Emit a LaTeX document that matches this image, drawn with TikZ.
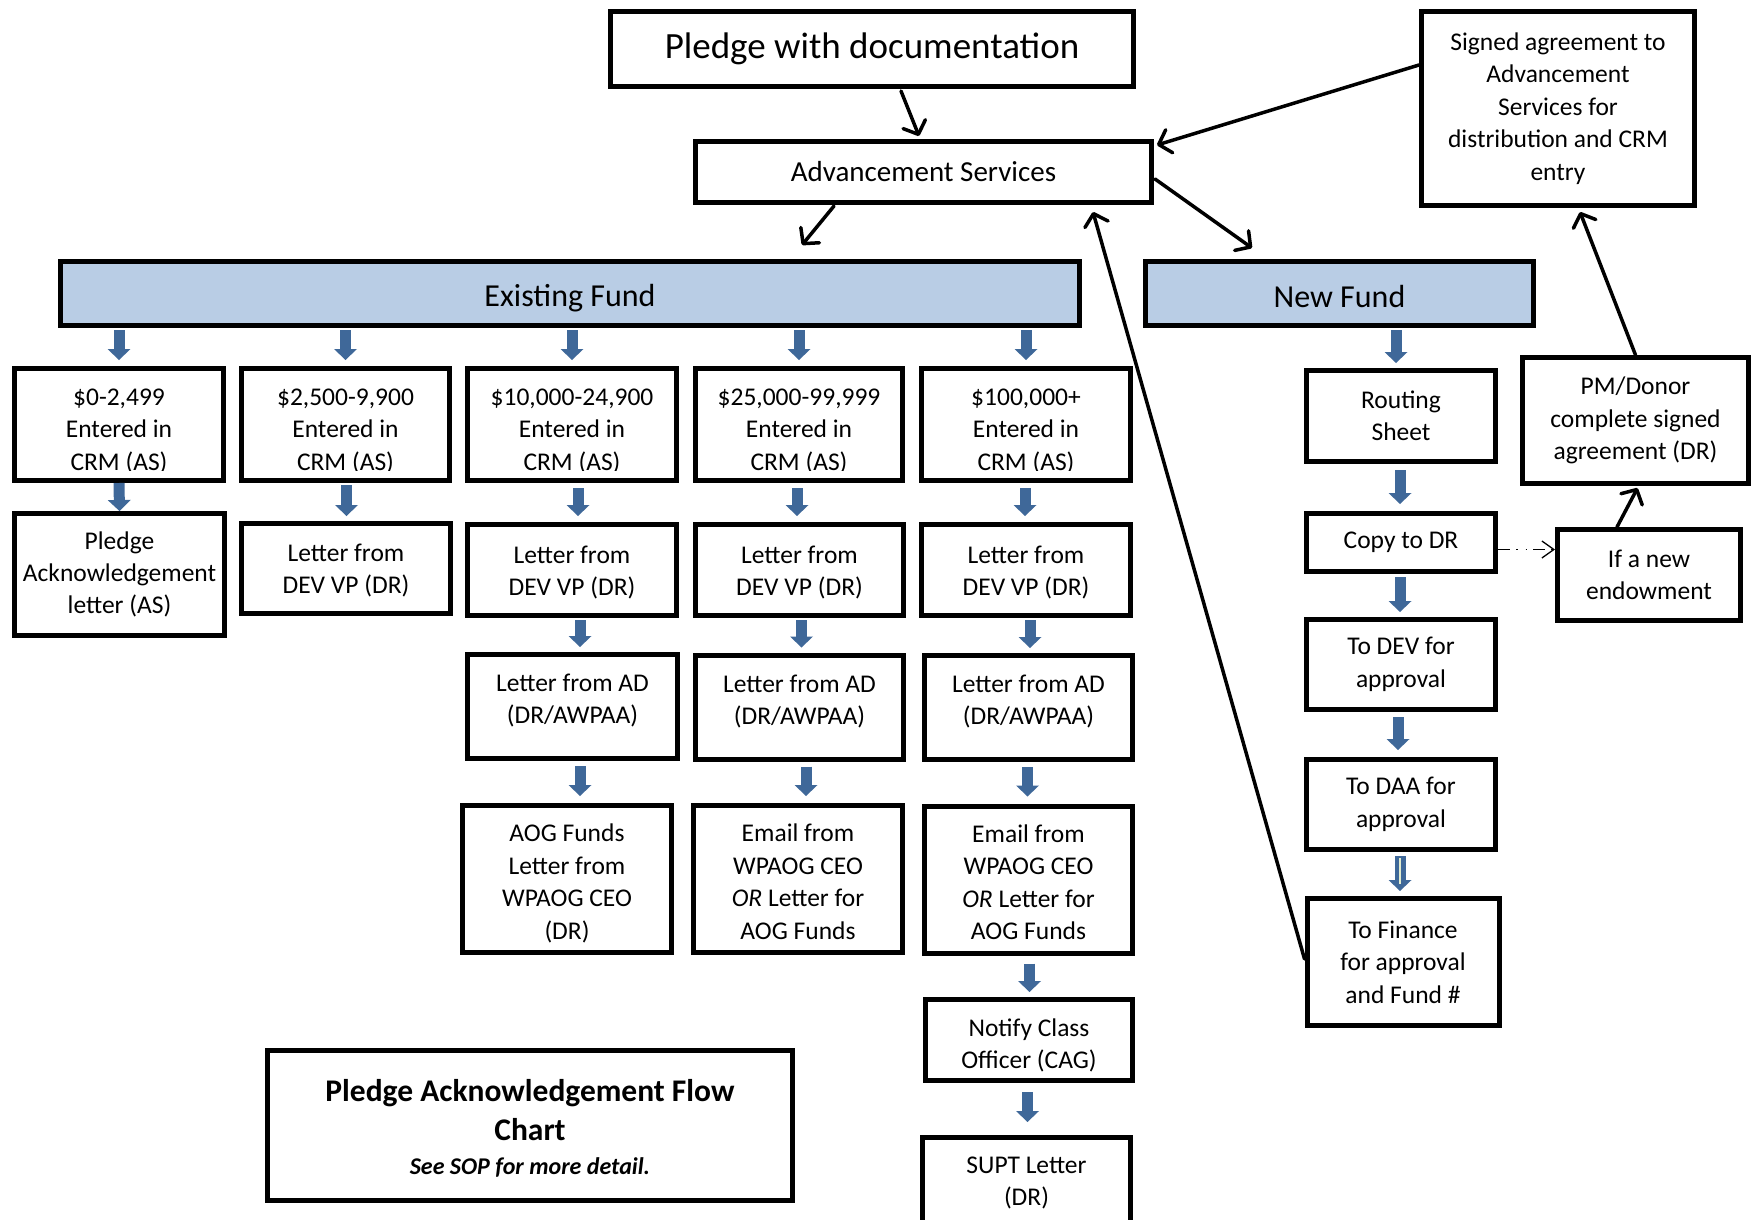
\documentclass[tikz,border=0pt]{standalone}
\usepackage{fontspec}
\setmainfont{Carlito}
\usetikzlibrary{arrows.meta,calc}
\definecolor{arrowblue}{HTML}{3F6899}
\definecolor{fundfill}{HTML}{B9CDE5}
\definecolor{lightline}{HTML}{E2ECCF}
\newcommand\mytopstrut[1]{\rule{0pt}{#1}}
\newcommand\mybotstrut[1]{\rule[-#1]{0pt}{#1}}
\tikzset{
  box/.style={draw=black, line width=5pt, fill=white, inner sep=0pt, align=center,
    text=black, font=\fontsize{25.5pt}{32.4pt}\selectfont},
  fundbox/.style={box, fill=fundfill, font=\fontsize{32pt}{38pt}\selectfont},
  bluearrow/.style 2 args={draw=arrowblue, line width=11pt,
    -{Triangle[length=11pt,width=23pt,line width=0pt]},
    shorten <=#1, shorten >=#2},
  conn/.style={draw=black, line width=3.5pt, line cap=round,
    -{Straight Barb[length=11pt,width=24pt,line cap=round,line join=round]}},
  dotconn/.style={draw=black, line width=1.3pt,
    dash pattern=on 12pt off 6pt on 1.5pt off 8pt on 1.5pt off 6pt,
    -{Straight Barb[length=12pt,width=17pt]}}
}
\begin{document}
\begin{tikzpicture}[x=1pt,y=-1pt]
\useasboundingbox (0,0) rectangle (1753,1220);
\fill[white] (0,0) rectangle (1753,1220);
\clip (0,0) rectangle (1753,1220);

% top
\node[box, minimum width=523pt, minimum height=75pt, font=\fontsize{37pt}{44pt}\selectfont] (pledge) at (872,49) {Pledge with documentation};
\node[box, minimum width=456pt, minimum height=61pt, font=\fontsize{29pt}{35pt}\selectfont] (adv) at (923.5,172) {Advancement Services};
\node[box, minimum width=273pt, minimum height=194pt] (signed) at (1558,108.5) {Signed agreement to\\Advancement\\Services for\\distribution and CRM\\entry};
\node[fundbox, minimum width=1019pt, minimum height=64pt] (existing) at (570,293.5) {\mytopstrut{31pt}Existing Fund};
\node[fundbox, minimum width=388pt, minimum height=64pt] (newfund) at (1339.5,293.5) {\mytopstrut{28pt}New Fund};

% row 1
\node[box, minimum width=209pt, minimum height=112pt] (r1a) at (119,424.5) {\mytopstrut{30pt}\$0-2,499\\Entered in\\CRM (AS)};
\node[box, minimum width=208pt, minimum height=112pt] (r1b) at (345.5,424.5) {\mytopstrut{30pt}\$2,500-9,900\\Entered in\\CRM (AS)};
\node[box, minimum width=209pt, minimum height=112pt] (r1c) at (572,424.5) {\mytopstrut{30pt}\$10,000-24,900\\Entered in\\CRM (AS)};
\node[box, minimum width=207pt, minimum height=112pt] (r1d) at (799,424.5) {\mytopstrut{30pt}\$25,000-99,999\\Entered in\\CRM (AS)};
\node[box, minimum width=209pt, minimum height=112pt] (r1e) at (1026,424.5) {\mytopstrut{30pt}\$100,000+\\Entered in\\CRM (AS)};
\foreach \n in {r1a,r1b,r1c,r1d,r1e}{
  \fill[white] ([xshift=5pt,yshift=5pt]\n.south west) rectangle ([xshift=-5pt,yshift=12pt]\n.south east);
}

% row 2
\node[box, minimum width=210pt, minimum height=122pt] (r2a) at (119.5,574.5) {Pledge\\Acknowledgement\\letter (AS)};
\node[box, minimum width=209pt, minimum height=90pt] (r2b) at (346,568.5) {\mytopstrut{22pt}Letter from\\DEV VP (DR)};
\node[box, minimum width=209pt, minimum height=91pt] (r2c) at (572,570) {\mytopstrut{22pt}Letter from\\DEV VP (DR)};
\node[box, minimum width=208pt, minimum height=91pt] (r2d) at (799.5,570) {\mytopstrut{22pt}Letter from\\DEV VP (DR)};
\node[box, minimum width=209pt, minimum height=91pt] (r2e) at (1026,570) {\mytopstrut{22pt}Letter from\\DEV VP (DR)};

% row 3
\node[box, minimum width=210pt, minimum height=104pt] (r3c) at (572.5,706.5) {Letter from AD\\(DR/AWPAA)\mybotstrut{16pt}};
\node[box, minimum width=208pt, minimum height=104pt] (r3d) at (799.5,707) {Letter from AD\\(DR/AWPAA)\mybotstrut{15pt}};
\node[box, minimum width=208pt, minimum height=104pt] (r3e) at (1028.5,707.5) {Letter from AD\\(DR/AWPAA)\mybotstrut{15pt}};

% row 4
\node[box, minimum width=209pt, minimum height=147pt] (r4c) at (567,879) {\mytopstrut{26.5pt}AOG Funds\\Letter from\\WPAOG CEO\\(DR)};
\node[box, minimum width=209pt, minimum height=147pt] (r4d) at (798,879) {\mytopstrut{23pt}Email from\\WPAOG CEO\\\textit{OR} Letter for\\AOG Funds};
\node[box, minimum width=208pt, minimum height=147pt] (r4e) at (1028.5,879.5) {\mytopstrut{23pt}Email from\\WPAOG CEO\\\textit{OR} Letter for\\AOG Funds};
\node[box, minimum width=207pt, minimum height=81pt] (notify) at (1029,1040) {\mytopstrut{29pt}Notify Class\\Officer (CAG)};
\node[box, minimum width=208pt, minimum height=88pt] (supt) at (1026.5,1181.5) {\mytopstrut{20pt}SUPT Letter\\(DR)};

% title
\node[box, minimum width=525pt, minimum height=150pt, font=\fontsize{31.5pt}{39pt}\selectfont\bfseries] (title) at (530,1125.5)
  {\mytopstrut{28pt}Pledge Acknowledgement Flow\\Chart\\[-5pt]{\fontsize{24pt}{30pt}\selectfont\bfseries\itshape See SOP for more detail.}};

% new fund column
\node[box, minimum width=189pt, minimum height=91pt] (routing) at (1401,416) {Routing\\Sheet};
\node[box, minimum width=189pt, minimum height=58pt] (copy) at (1401,542.5) {Copy to DR};
\node[box, minimum width=189pt, minimum height=90pt] (dev) at (1401,664.5) {To DEV for\\approval};
\node[box, minimum width=189pt, minimum height=90pt] (daa) at (1401,804.5) {To DAA for\\approval};
\node[box, minimum width=192pt, minimum height=127pt] (finance) at (1403,962) {To Finance\\for approval\\and Fund \#};
\node[box, minimum width=226pt, minimum height=126pt] (pm) at (1635.5,420.5) {PM/Donor\\complete signed\\agreement (DR)};
\node[box, minimum width=183pt, minimum height=91pt] (ifnew) at (1649,575) {If a new\\endowment};

% blue block arrows
\draw[bluearrow={2pt}{6pt}] (existing.south -| r1a.north) -- (r1a.north);
\draw[bluearrow={2pt}{6pt}] (existing.south -| r1b.north) -- (r1b.north);
\draw[bluearrow={2pt}{6pt}] (existing.south -| r1c.north) -- (r1c.north);
\draw[bluearrow={2pt}{6pt}] (existing.south -| r1d.north) -- (r1d.north);
\draw[bluearrow={2pt}{6pt}] (existing.south -| r1e.north) -- (r1e.north);

\draw[bluearrow={0pt}{0pt}] (r1a.south) -- (r2a.north);
\draw[bluearrow={2pt}{5pt}] ([xshift=1pt]r1b.south) -- ([xshift=1pt]r1b.south |- r2b.north);
\draw[bluearrow={5pt}{6pt}] ([xshift=6pt]r1c.south) -- ([xshift=6pt]r1c.south |- r2c.north);
\draw[bluearrow={5pt}{6pt}] ([xshift=-2pt]r1d.south) -- ([xshift=-2pt]r1d.south |- r2d.north);
\draw[bluearrow={5pt}{6pt}] ([xshift=-1pt]r1e.south) -- ([xshift=-1pt]r1e.south |- r2e.north);

\draw[bluearrow={2pt}{5pt}] ([xshift=8pt]r2c.south) -- ([xshift=8pt]r2c.south |- r3c.north);
\draw[bluearrow={2pt}{5pt}] ([xshift=2pt]r2d.south) -- ([xshift=2pt]r2d.south |- r3d.north);
\draw[bluearrow={2pt}{5pt}] ([xshift=4pt]r2e.south) -- ([xshift=4pt]r2e.south |- r3e.north);

\draw[bluearrow={5pt}{7pt}] ([xshift=7.5pt]r3c.south) -- ([xshift=7.5pt]r3c.south |- r4c.north);
\draw[bluearrow={5pt}{7pt}] ([xshift=6.5pt]r3d.south) -- ([xshift=6.5pt]r3d.south |- r4d.north);
\draw[bluearrow={5pt}{7pt}] ([xshift=-1pt]r3e.south) -- ([xshift=-1pt]r3e.south |- r4e.north);

\draw[bluearrow={8pt}{5pt}] ([xshift=1pt]r4e.south) -- ([xshift=1pt]r4e.south |- notify.north);
\draw[bluearrow={9pt}{13pt}] ([xshift=-1.5pt]notify.south) -- ([xshift=-1.5pt]notify.south |- supt.north);

\draw[bluearrow={2pt}{5pt}] ([xshift=-5pt]newfund.south -| routing.north) -- ([xshift=-5pt]routing.north);
\draw[bluearrow={6pt}{7pt}] ([xshift=-1pt]routing.south) -- ([xshift=-1pt]copy.north);
\draw[bluearrow={3pt}{5pt}] ([xshift=-1pt]copy.south) -- ([xshift=-1pt]dev.north);
\draw[bluearrow={5pt}{7pt}] ([xshift=-3pt]dev.south) -- ([xshift=-3pt]daa.north);
\draw[bluearrow={4pt}{5pt}] ([xshift=-1pt]daa.south) -- ([xshift=-1pt]daa.south |- finance.north);
\draw[lightline, line width=2.5pt] ([xshift=-1pt,yshift=-6pt]daa.south) -- ([xshift=-1pt,yshift=12pt]daa.south |- finance.north);

% black connectors
\draw[conn] ([xshift=29pt,yshift=-2pt]pledge.south) -- ([xshift=-4.5pt,yshift=3pt]adv.north);
\draw[conn] ([yshift=43.5pt]signed.west) -- ([xshift=3pt,yshift=-6pt]adv.north east);
\draw[conn] ([xshift=-89.5pt,yshift=-1pt]adv.south) -- ([xshift=232pt,yshift=14pt]existing.north);
\draw[conn] ([xshift=1pt,yshift=-7pt]adv.east) -- ([xshift=-87.5pt,yshift=11pt]newfund.north);
\draw[conn] ([yshift=3pt]finance.west) -- ([xshift=169.5pt,yshift=-7pt]adv.south);
\draw[conn] (pm.north) -- ([xshift=22pt,yshift=-4pt]signed.south);
\draw[conn] ([xshift=-32pt]ifnew.north) -- ([xshift=2pt,yshift=-2pt]pm.south);
\draw[dotconn] ([yshift=-7pt]copy.east) -- ([yshift=-7pt]copy.east -| ifnew.west);
\end{tikzpicture}
\end{document}
